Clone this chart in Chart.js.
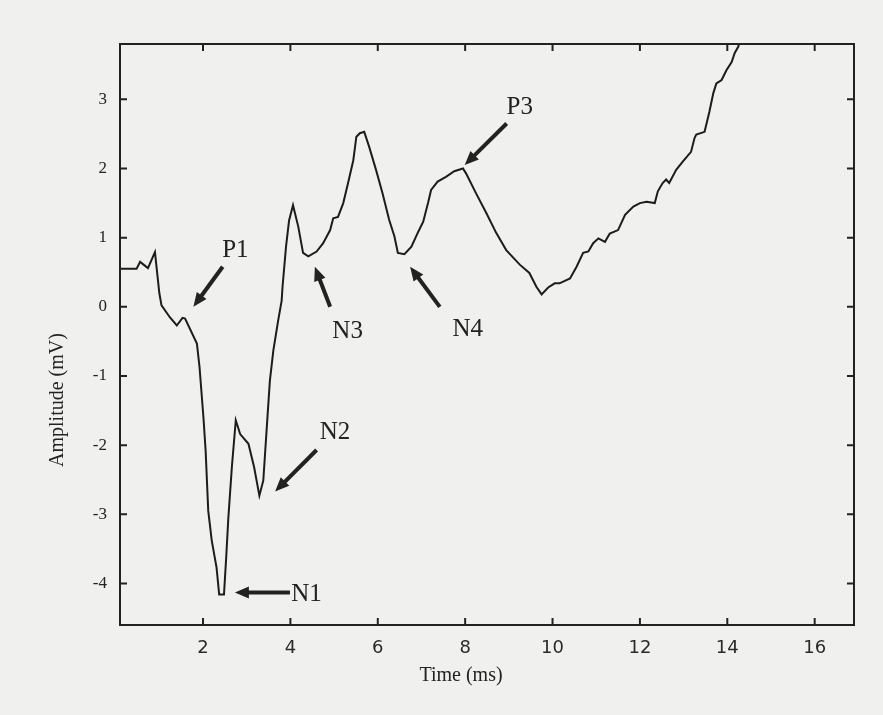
<!DOCTYPE html>
<html>
<head>
<meta charset="utf-8">
<script src="https://cdn.jsdelivr.net/npm/chart.js@4/dist/chart.umd.min.js"></script>
<style>
html, body { margin: 0; padding: 0; background: #f0f0ef; }
canvas { display: block; }
</style>
</head>
<body>
<canvas id="ecg" width="883" height="715"></canvas>
<script>
// trace
const timeMs = [0.10, 0.48, 0.56, 0.74, 0.90, 1.00, 1.05, 1.24, 1.40, 1.53, 1.59, 1.86, 1.92, 2.01, 2.06, 2.12,
  2.20, 2.31, 2.37, 2.48, 2.53, 2.58, 2.66, 2.75, 2.85, 3.04, 3.17, 3.29, 3.38, 3.46, 3.53, 3.61, 3.72, 3.80,
  3.82, 3.90, 3.97, 4.06, 4.18, 4.29, 4.41, 4.60, 4.75, 4.91, 4.98, 5.09, 5.21, 5.32, 5.44, 5.51, 5.59, 5.69,
  5.80, 5.96, 6.11, 6.26, 6.38, 6.46, 6.61, 6.77, 6.93, 7.04, 7.15, 7.22, 7.37, 7.56, 7.75, 7.95, 8.02, 8.25,
  8.49, 8.71, 8.94, 9.25, 9.47, 9.63, 9.75, 9.90, 10.05, 10.16, 10.40, 10.55, 10.70, 10.82, 10.93, 11.05,
  11.20, 11.31, 11.50, 11.66, 11.85, 12.00, 12.15, 12.34, 12.41, 12.52, 12.60, 12.67, 12.83, 12.98, 13.17,
  13.25, 13.29, 13.48, 13.59, 13.68, 13.75, 13.87, 13.98, 14.10, 14.17, 14.25, 14.29];
const amplitude = [0.55, 0.55, 0.65, 0.56, 0.79, 0.20, 0.02, -0.15, -0.27, -0.16, -0.17, -0.53, -0.87, -1.60, -2.08, -2.95,
  -3.38, -3.77, -4.16, -4.16, -3.63, -3.05, -2.32, -1.64, -1.84, -1.98, -2.32, -2.73, -2.51, -1.74, -1.07, -0.63, -0.20, 0.09,
  0.29, 0.87, 1.25, 1.47, 1.16, 0.78, 0.73, 0.80, 0.92, 1.11, 1.28, 1.30, 1.50, 1.79, 2.12, 2.46, 2.51, 2.53,
  2.32, 1.98, 1.64, 1.26, 1.02, 0.78, 0.76, 0.87, 1.09, 1.23, 1.50, 1.69, 1.81, 1.88, 1.96, 2.00, 1.93, 1.64,
  1.35, 1.07, 0.82, 0.61, 0.49, 0.29, 0.18, 0.28, 0.34, 0.34, 0.41, 0.58, 0.78, 0.80, 0.92, 0.99,
  0.94, 1.06, 1.11, 1.33, 1.45, 1.50, 1.52, 1.50, 1.67, 1.79, 1.84, 1.79, 1.98, 2.10, 2.24,
  2.44, 2.49, 2.53, 2.82, 3.09, 3.23, 3.28, 3.42, 3.54, 3.67, 3.76, 3.85];

const xTicks = [2, 4, 6, 8, 10, 12, 14, 16];
const yTicks = [-4, -3, -2, -1, 0, 1, 2, 3];

// peak labels and their arrows (data units)
const markNames = ["P1", "N1", "N2", "N3", "N4", "P3"];
const markTextX = [2.74, 4.37, 5.02, 5.31, 8.06, 9.25];
const markTextY = [0.82, -4.16, -1.81, -0.36, -0.32, 2.89];
const tailX = [2.45, 3.99, 4.60, 4.91, 7.42, 8.95];
const tailY = [0.58, -4.13, -2.07, 0.00, 0.00, 2.65];
const tipX = [1.78, 2.73, 3.65, 4.56, 6.74, 7.99];
const tipY = [0.00, -4.13, -2.67, 0.58, 0.58, 2.05];

const serif = "'Liberation Serif', 'DejaVu Serif', serif";

const framePlugin = {
  id: "frame",
  afterDraw(chart) {
    const ctx = chart.ctx;
    const a = chart.chartArea;
    const x = chart.scales.x;
    const y = chart.scales.y;
    ctx.save();
    ctx.strokeStyle = "#222";
    ctx.lineWidth = 2;
    ctx.strokeRect(a.left, a.top, a.right - a.left, a.bottom - a.top);

    ctx.beginPath();
    xTicks.forEach(v => {
      const px = x.getPixelForValue(v);
      ctx.moveTo(px, a.bottom); ctx.lineTo(px, a.bottom - 7);
      ctx.moveTo(px, a.top); ctx.lineTo(px, a.top + 7);
    });
    yTicks.forEach(v => {
      const py = y.getPixelForValue(v);
      ctx.moveTo(a.left, py); ctx.lineTo(a.left + 7, py);
      ctx.moveTo(a.right, py); ctx.lineTo(a.right - 7, py);
    });
    ctx.stroke();

    // axis titles
    ctx.fillStyle = "#222";
    ctx.font = "20px " + serif;
    ctx.textAlign = "center";
    ctx.textBaseline = "middle";
    ctx.fillText("Time (ms)", 461, 676);
    ctx.save();
    ctx.translate(58, 400);
    ctx.rotate(-Math.PI / 2);
    ctx.fillText("Amplitude (mV)", 0, 0);
    ctx.restore();

    // annotations
    ctx.font = "25px " + serif;
    markNames.forEach((name, i) => {
      ctx.fillText(name, x.getPixelForValue(markTextX[i]), y.getPixelForValue(markTextY[i]));
      const x0 = x.getPixelForValue(tailX[i]), y0 = y.getPixelForValue(tailY[i]);
      const x1 = x.getPixelForValue(tipX[i]), y1 = y.getPixelForValue(tipY[i]);
      const ang = Math.atan2(y1 - y0, x1 - x0);
      const head = 14;
      ctx.lineWidth = 4;
      ctx.beginPath();
      ctx.moveTo(x0, y0);
      ctx.lineTo(x1 - Math.cos(ang) * head * 0.8, y1 - Math.sin(ang) * head * 0.8);
      ctx.stroke();
      ctx.beginPath();
      ctx.moveTo(x1, y1);
      ctx.lineTo(x1 - head * Math.cos(ang) + 6 * Math.sin(ang), y1 - head * Math.sin(ang) - 6 * Math.cos(ang));
      ctx.lineTo(x1 - head * Math.cos(ang) - 6 * Math.sin(ang), y1 - head * Math.sin(ang) + 6 * Math.cos(ang));
      ctx.closePath();
      ctx.fill();
    });
    ctx.restore();
  }
};

new Chart(document.getElementById("ecg"), {
  type: "line",
  data: {
    datasets: [{
      data: timeMs.map((t, i) => ({ x: t, y: amplitude[i] })),
      borderColor: "#1c1c1c",
      borderWidth: 2,
      pointRadius: 0,
      tension: 0,
      fill: false
    }]
  },
  options: {
    responsive: false,
    animation: false,
    layout: { padding: { top: 44, right: 29, left: 0, bottom: 0 } },
    plugins: { legend: { display: false }, tooltip: { enabled: false } },
    scales: {
      x: {
        type: "linear",
        min: 0.1,
        max: 16.9,
        afterBuildTicks: s => { s.ticks = xTicks.map(v => ({ value: v })); },
        afterFit: s => { s.height = 90; },
        grid: { display: false, drawTicks: false },
        border: { display: false },
        ticks: {
          padding: 13,
          color: "#2a2a2a",
          font: { family: "'DejaVu Sans', sans-serif", size: 18 }
        }
      },
      y: {
        min: -4.6,
        max: 3.8,
        afterBuildTicks: s => { s.ticks = yTicks.map(v => ({ value: v })); },
        afterFit: s => { s.width = 120; },
        grid: { display: false, drawTicks: false },
        border: { display: false },
        ticks: {
          padding: 13,
          color: "#222",
          font: { family: serif, size: 17 }
        }
      }
    }
  },
  plugins: [framePlugin]
});
</script>
</body>
</html>
